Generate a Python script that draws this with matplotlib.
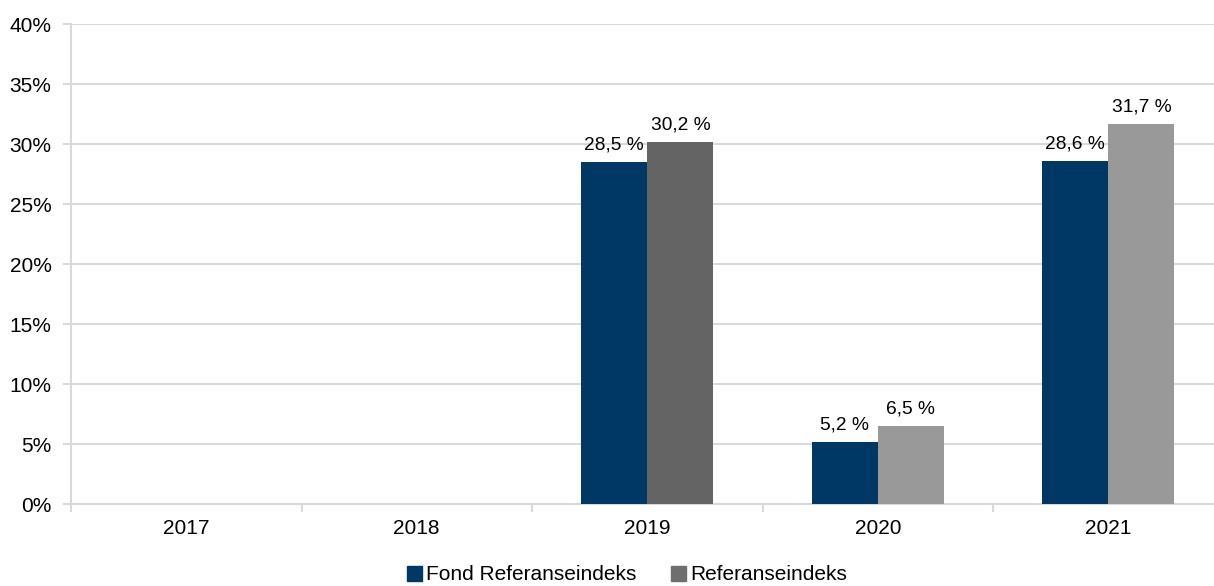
import matplotlib.pyplot as plt
from matplotlib.patches import Patch
import numpy as np

plt.rcParams['font.family'] = ['Liberation Sans', 'DejaVu Sans']

years = ['2017', '2018', '2019', '2020', '2021']
fond = [np.nan, np.nan, 28.5, 5.2, 28.6]
ref = [np.nan, np.nan, 30.2, 6.5, 31.7]
ref_colors = ['#999999', '#999999', '#646464', '#999999', '#999999']
fond_color = '#003865'
grid_color = '#d9d9d9'

fig = plt.figure(figsize=(12.14, 5.86), dpi=100)
# axes run past the right edge of the figure, like the original
ax = fig.add_axes([71 / 1214, (586 - 504) / 586, 1152.5 / 1214, 480 / 586])

x = np.arange(len(years))
w = 0.287
b1 = ax.bar(x - w / 2, fond, w, color=fond_color, zorder=3)
b2 = ax.bar(x + w / 2, ref, w, color=ref_colors, zorder=3)

for bars, vals in ((b1, fond), (b2, ref)):
    for rect, v in zip(bars, vals):
        if np.isnan(v):
            continue
        ax.annotate(f'{v:.1f} %'.replace('.', ','),
                    (rect.get_x() + rect.get_width() / 2, v),
                    xytext=(0, 6), textcoords='offset points',
                    ha='center', va='bottom', fontsize=13.8)

ax.set_xlim(-0.5, len(years) - 0.5)
ax.set_ylim(0, 40)
ax.set_yticks(np.arange(0, 41, 5))
ax.set_yticklabels([f'{t}%' for t in range(0, 41, 5)], fontsize=15)
ax.yaxis.grid(True, color=grid_color, linewidth=1.5, zorder=0)

ax.set_xticks(x)
ax.set_xticklabels(years, fontsize=15)
ax.set_xticks(np.arange(-0.5, len(years)), minor=True)
ax.tick_params(axis='x', which='major', length=0, pad=11)
ax.tick_params(axis='x', which='minor', length=6, width=1.5, color=grid_color)
ax.tick_params(axis='y', length=6, width=1.5, color=grid_color, pad=8)

for s in ('top', 'right'):
    ax.spines[s].set_visible(False)
for s in ('left', 'bottom'):
    ax.spines[s].set_color(grid_color)
    ax.spines[s].set_linewidth(1.5)

handles = [Patch(color=fond_color, label='Fond Referanseindeks'),
           Patch(color='#6e6e6e', label='Referanseindeks')]
fig.legend(handles=handles, loc='center', bbox_to_anchor=(627 / 1214, 1 - 575 / 586),
           ncol=2, frameon=False, fontsize=15, handlelength=0.7, handleheight=0.7,
           handletextpad=0.2, columnspacing=1.7, borderpad=0)

fig.savefig('out.png', dpi=100)
